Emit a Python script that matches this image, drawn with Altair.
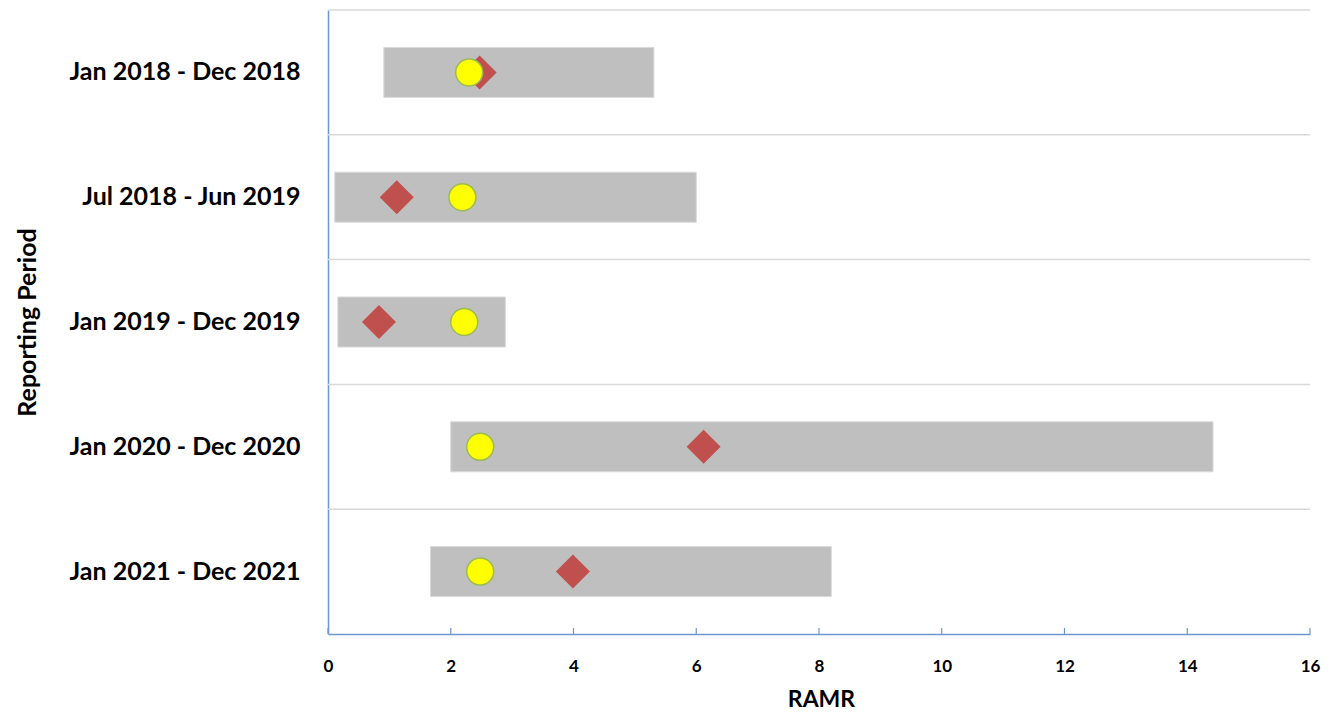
import altair as alt
import pandas as pd

periods = ["Jan 2018 - Dec 2018", "Jul 2018 - Jun 2019", "Jan 2019 - Dec 2019",
           "Jan 2020 - Dec 2020", "Jan 2021 - Dec 2021"]
low = [0.91, 0.11, 0.16, 2.0, 1.67]
high = [5.31, 6.0, 2.89, 14.42, 8.2]
diamond = [2.47, 1.12, 0.83, 6.12, 3.99]
circle = [2.3, 2.19, 2.22, 2.48, 2.48]
ticks = [0, 2, 4, 6, 8, 10, 12, 14, 16]

W, H = 982, 624
FONT = "Lato"
BLUE = "#6F95CE"

df = pd.DataFrame({"period": periods, "low": low, "high": high,
                   "diamond": diamond, "circle": circle})
tdf = pd.DataFrame({"t": ticks})

xscale = alt.Scale(domain=[0, 16], nice=False)
yscale = alt.Scale(paddingInner=0, paddingOuter=0)

base = alt.Chart(df)

grid = base.mark_rule(color="#D9D9D9", strokeWidth=1.5).encode(
    y=alt.Y("period:N", sort=periods, scale=yscale, bandPosition=0),
    x=alt.value(0), x2=alt.value(W),
)

bars = base.mark_bar(color="#BFBFBF", stroke="#D9D9D9", strokeWidth=1, size=50).encode(
    y=alt.Y("period:N", sort=periods, scale=yscale,
            axis=alt.Axis(title="Reporting Period", ticks=False, grid=False,
                          domainColor=BLUE, domainWidth=1.5, labelPadding=28,
                          labelLimit=0,
                          labelFont=FONT, labelFontSize=25, labelFontWeight="bold",
                          labelColor="black", titleFont=FONT, titleFontSize=25,
                          titleFontWeight="bold", titleColor="black",
                          titleX=-301, titleY=312, titleAngle=270,
                          titleAlign="center", titleBaseline="middle")),
    x=alt.X("low:Q", scale=xscale,
            axis=alt.Axis(title="RAMR", values=ticks, format="d", ticks=False, grid=False,
                          domainColor=BLUE, domainWidth=1.5, labelPadding=24,
                          labelFlush=False,
                          labelFont=FONT, labelFontSize=17, labelFontWeight="bold",
                          labelColor="black", titleFont=FONT, titleFontSize=23,
                          titleFontWeight="bold", titleColor="black",
                          titleX=W / 2 + 2, titleY=65, titleAlign="center",
                          titleBaseline="middle")),
    x2="high:Q",
)

dia = base.mark_point(shape="diamond", filled=True, color="#C0504D", size=1156, opacity=1).encode(
    y=alt.Y("period:N", sort=periods, scale=yscale),
    x=alt.X("diamond:Q", scale=xscale),
)

cir = base.mark_point(shape="circle", filled=True, fill="#FFFF00", stroke="#9BBB59",
                      strokeWidth=1.5, size=729, opacity=1).encode(
    y=alt.Y("period:N", sort=periods, scale=yscale),
    x=alt.X("circle:Q", scale=xscale),
)

tk = alt.Chart(tdf).mark_rule(color=BLUE, strokeWidth=1.2).encode(
    x=alt.X("t:Q", scale=xscale),
    y=alt.value(H - 6), y2=alt.value(H),
)

chart = alt.layer(grid, bars, dia, cir, tk).properties(
    width=W, height=H,
    autosize=alt.AutoSizeParams(type="none"),
    padding={"left": 320, "top": 2, "right": 12, "bottom": 79},
).configure_view(stroke=None)

chart.save("out.html", embed_options={"renderer": "svg", "actions": False})
